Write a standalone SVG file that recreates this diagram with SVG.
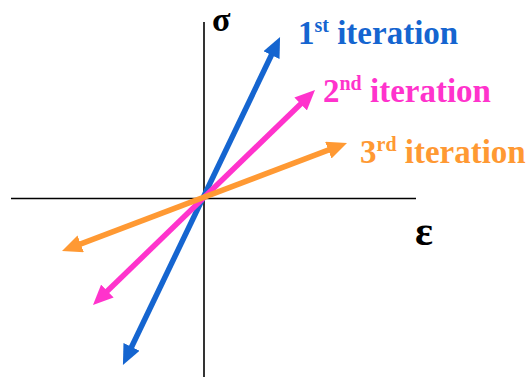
<svg xmlns="http://www.w3.org/2000/svg" width="529" height="377" viewBox="0 0 529 377">
<style>
.axis{stroke:#000;stroke-width:1.6;fill:none}
.lbl{font-family:"Liberation Serif","Times New Roman",serif;font-weight:bold;font-size:33px}
.sup{font-size:20px}
.ln{stroke-width:5.5;fill:none}
</style>
<defs>
<marker id="hb" viewBox="0 0 20 18" refX="9" refY="9" markerWidth="20" markerHeight="18" markerUnits="userSpaceOnUse" orient="auto-start-reverse"><path d="M0,0 L20,9 L0,18 z" fill="#1565D0"/></marker>
<marker id="hp" viewBox="0 0 20 18" refX="9" refY="9" markerWidth="20" markerHeight="18" markerUnits="userSpaceOnUse" orient="auto-start-reverse"><path d="M0,0 L20,9 L0,18 z" fill="#FF33CC"/></marker>
<marker id="ho" viewBox="0 0 20 18" refX="9" refY="9" markerWidth="20" markerHeight="18" markerUnits="userSpaceOnUse" orient="auto-start-reverse"><path d="M0,0 L20,9 L0,18 z" fill="#FF9933"/></marker>
</defs>
<g id="axes">
<line class="axis" x1="11" y1="198.5" x2="416" y2="198.5"/>
<line class="axis" x1="204" y1="22" x2="204" y2="377"/>
</g>
<g id="connectors">
<line class="ln" stroke="#1565D0" x1="127.7" y1="355" x2="275.3" y2="47" marker-start="url(#hb)" marker-end="url(#hb)"/>
<line class="ln" stroke="#FF33CC" x1="100.9" y1="297.3" x2="307.1" y2="97.7" marker-start="url(#hp)" marker-end="url(#hp)"/>
<line class="ln" stroke="#FF9933" x1="72.3" y1="247.1" x2="336.7" y2="146.9" marker-start="url(#ho)" marker-end="url(#ho)"/>
</g>
<g id="sigma"><text class="lbl" x="212" y="31" style="font-size:34px">σ</text></g>
<g id="epsilon"><text class="lbl" x="415" y="245" style="font-size:42px">ε</text></g>
<g id="label1"><text class="lbl" x="298" y="44" fill="#1565D0">1<tspan class="sup" dy="-12">st</tspan><tspan dy="12"> iteration</tspan></text></g>
<g id="label2"><text class="lbl" x="323" y="102" fill="#FF33CC">2<tspan class="sup" dy="-12">nd</tspan><tspan dy="12"> iteration</tspan></text></g>
<g id="label3"><text class="lbl" x="360" y="163" fill="#FF9933">3<tspan class="sup" dy="-12">rd</tspan><tspan dy="12"> iteration</tspan></text></g>
</svg>
